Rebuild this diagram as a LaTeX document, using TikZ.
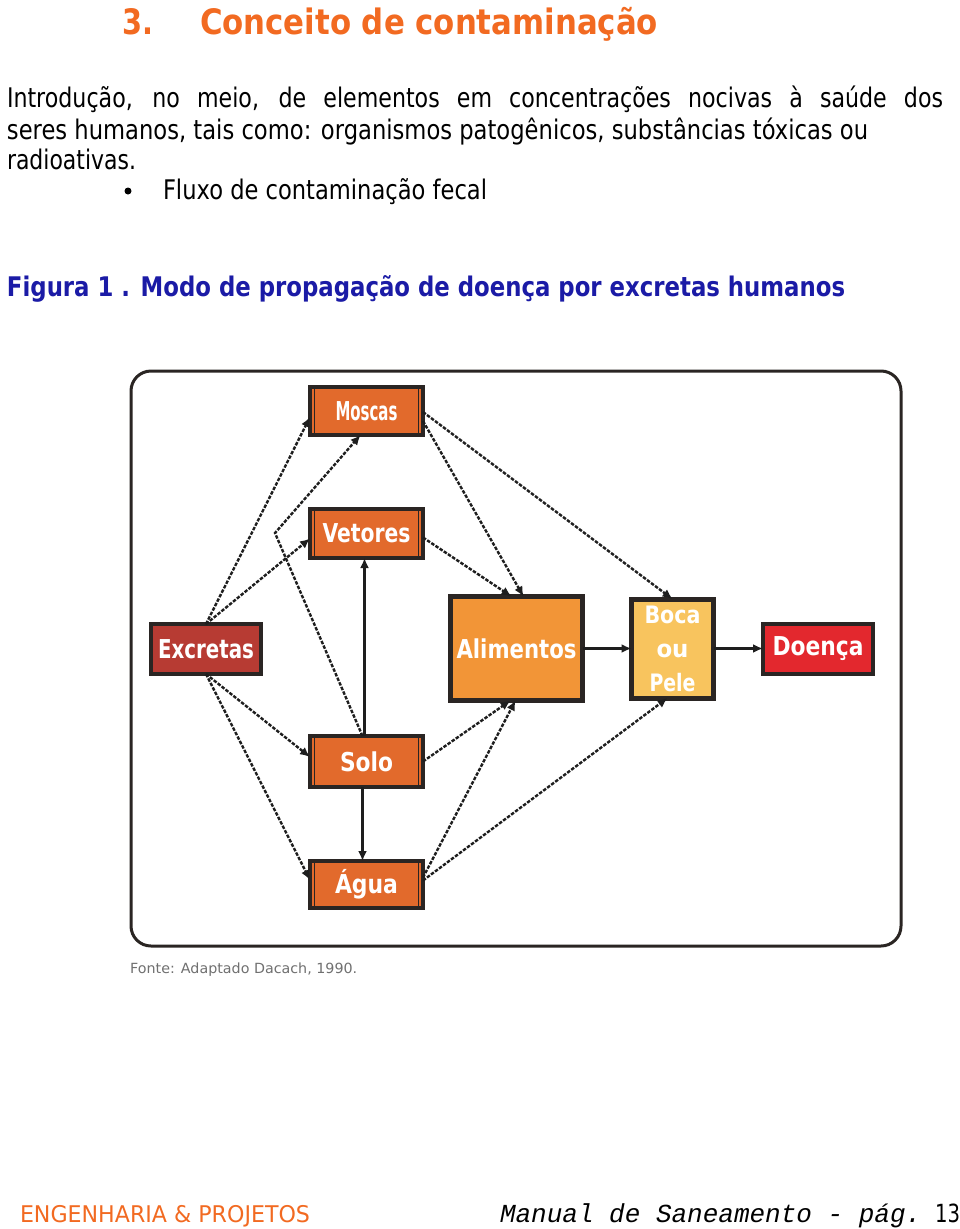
\documentclass[tikz,border=0pt]{standalone}
\usepackage{fontspec}
\usepackage{graphicx}
\setmainfont{DejaVu Sans}
\newfontfamily\tah{DejaVu Sans}[FakeStretch=0.82]
\newfontfamily\cour{Liberation Mono}
\usetikzlibrary{arrows.meta}
\definecolor{ttl}{HTML}{F26A21}
\definecolor{capc}{HTML}{1B1BA6}
\definecolor{brd}{HTML}{2A2523}
\definecolor{cOr}{HTML}{E26A2C}
\definecolor{cEx}{HTML}{B73B33}
\definecolor{cAl}{HTML}{F29537}
\definecolor{cBo}{HTML}{F8C45E}
\definecolor{cDo}{HTML}{E3282E}
\definecolor{lnc}{HTML}{1E1E1E}
\definecolor{srcc}{HTML}{707070}
\newcommand\fitw[2]{\resizebox{#1}{\height}{#2}}
\tikzset{
  txt/.style={anchor=base west, inner sep=0pt, outer sep=0pt},
  box/.style={draw=brd, line width=4pt, text=white, inner sep=0pt, outer sep=0pt,
    font=\fontsize{26}{30}\selectfont\tah\bfseries},
  ar/.style={-{Latex[length=10pt,width=9pt]}, draw=lnc, line width=2.4pt},
  dl/.style={dash pattern=on 3.5pt off 1.5pt},
  stripe/.style={draw=brd, line width=1.3pt}
}
\begin{document}
\begin{tikzpicture}[x=1pt,y=-1pt]
\useasboundingbox[fill=white] (0,0) rectangle (960,1229);
% title
\node[txt, text=ttl, font=\fontsize{35}{40}\selectfont\tah\bfseries] (tnum) at (122,34) {\fitw{31pt}{3.}};
\node[txt, text=ttl, font=\fontsize{35}{40}\selectfont\tah\bfseries] (ttext) at (200,34) {\fitw{458pt}{Conceito de contaminação}};
% body
\node[txt, font=\fontsize{27}{32}\selectfont\tah] (b1) at (7,107) {\makebox[936pt][s]{Introdução, no meio, de elementos em concentrações nocivas à saúde dos}};
\node[txt, font=\fontsize{27}{32}\selectfont\tah] (b2) at (7,139) {\fitw{861pt}{seres humanos, tais como: organismos patogênicos, substâncias tóxicas ou}};
\node[txt, font=\fontsize{27}{32}\selectfont\tah] (b3) at (7,169) {\fitw{129pt}{radioativas.}};
\node[circle, fill=black, inner sep=0pt, minimum size=7pt] (bul) at (128,191) {};
\node[txt, font=\fontsize{27}{32}\selectfont\tah] (b4) at (163,199) {\fitw{324pt}{Fluxo de contaminação fecal}};
% caption
\node[txt, text=capc, font=\fontsize{27}{32}\selectfont\tah\bfseries] (cap) at (7,296) {\fitw{838pt}{Figura 1 . Modo de propagação de doença por excretas humanos}};
% frame
\node[draw=brd, line width=3pt, rounded corners=20pt, minimum width=770pt, minimum height=575pt, inner sep=0pt] (frame) at (516,658.5) {};
% boxes
\node[box, fill=cOr, minimum width=113pt, minimum height=48pt] (m) at (366.5,411) {\fitw{62pt}{Moscas}};
\node[box, fill=cOr, minimum width=113pt, minimum height=49pt] (v) at (366.5,533.5) {\fitw{88pt}{Vetores}};
\node[box, fill=cOr, minimum width=113pt, minimum height=51pt] (s) at (366.5,761.5) {\fitw{53pt}{Solo}};
\node[box, fill=cOr, minimum width=113pt, minimum height=47pt] (a) at (366.5,884.5) {\fitw{63pt}{Água}};
\node[box, fill=cEx, minimum width=110pt, minimum height=50pt] (ex) at (206,649) {\fitw{96pt}{Excretas}};
\node[box, fill=cAl, line width=5pt, minimum width=132pt, minimum height=104pt] (al) at (516.5,648.5) {\fitw{120pt}{Alimentos}};
\node[box, fill=cBo, line width=5pt, minimum width=82pt, minimum height=99pt, align=center,
  font=\fontsize{24}{34}\selectfont\tah\bfseries] (bo) at (672.5,648.5) {\fitw{56pt}{Boca}\\\fitw{32pt}{ou}\\\fitw{46pt}{Pele}};
\node[box, fill=cDo, minimum width=110pt, minimum height=50pt] (do) at (818,648.5) {\fitw{91pt}{Doença}};
% inner stripes
\foreach \n in {m,v,s,a}{
  \draw[stripe] ([xshift=4.5pt]\n.north west) -- ([xshift=4.5pt]\n.south west);
  \draw[stripe] ([xshift=-4.5pt]\n.north east) -- ([xshift=-4.5pt]\n.south east);
}
% connectors
\coordinate (kink) at (275,533);
\draw[ar,dl] (ex.north) -- ([yshift=-6pt]m.west);
\draw[ar,dl] (ex.north) -- ([yshift=-5pt]v.west);
\draw[ar,dl] ([xshift=-4pt]s.north) -- (kink) -- ([xshift=-6pt]m.south);
\draw[ar] ([xshift=-2pt]s.north) -- ([xshift=-2pt]v.south);
\draw[ar,dl] ([yshift=-10pt]m.east) -- ([xshift=7pt]al.north);
\draw[ar,dl] ([yshift=-1pt]m.east) -- (bo.north);
\draw[ar,dl] ([yshift=-4pt]v.east) -- ([xshift=-5pt]al.north);
\draw[ar] (al.east) -- (bo.west);
\draw[ar] (bo.east) -- (do.west);
\draw[ar,dl] (ex.south) -- ([yshift=4.5pt]s.west);
\draw[ar,dl] (ex.south) -- ([yshift=4.5pt]a.west);
\draw[ar] ([xshift=-4pt]s.south) -- ([xshift=-4pt]a.north);
\draw[ar,dl] (s.east) -- ([xshift=-6pt]al.south);
\draw[ar,dl] ([yshift=7pt]a.east) -- ([xshift=-1pt]al.south);
\draw[ar,dl] ([yshift=4pt]a.east) -- ([xshift=-5pt]bo.south);
% source
\node[anchor=west, inner sep=0pt, text=srcc, font=\fontsize{14}{16}\selectfont\tah] (src) at (130,970) {\fitw{227pt}{Fonte: Adaptado Dacach, 1990.}};
% footer
\node[txt, text=ttl, font=\fontsize{23}{27}\selectfont\tah] (f1) at (20,1222) {\fitw{290pt}{ENGENHARIA \& PROJETOS}};
\node[txt, font=\fontsize{26}{30}\selectfont\cour\itshape] (f2) at (500,1222) {Manual de Saneamento - pág.};
\node[txt, font=\fontsize{25}{30}\selectfont\tah] (f3) at (935,1222) {\fitw{25pt}{13}};
\end{tikzpicture}
\end{document}
